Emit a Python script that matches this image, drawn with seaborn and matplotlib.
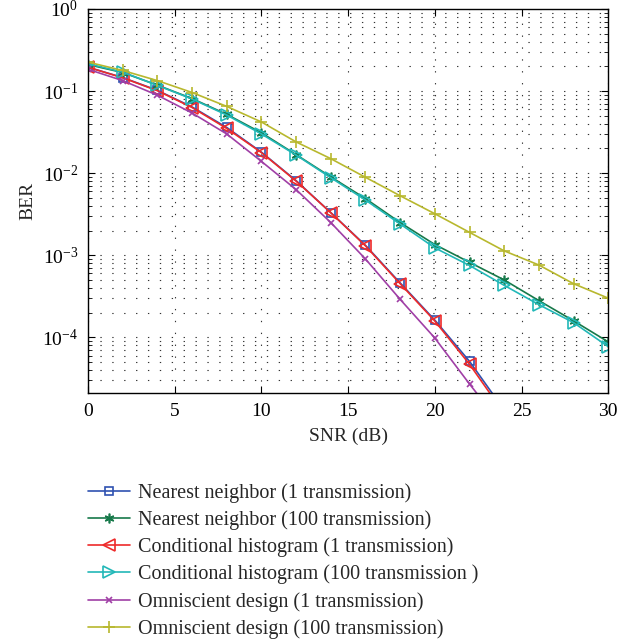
import pandas as pd
import seaborn as sns
import matplotlib.pyplot as plt
from matplotlib.ticker import LogLocator, NullFormatter, MultipleLocator

# SNR v dB, krok 2
snr = list(range(0, 31, 2))

# BER krivky
nn_1 = [0.195, 0.146, 0.102, 0.064, 0.036, 0.018, 0.0081, 0.0033, 0.00132,
        0.00046, 0.000162, 0.000051, 0.0000130]
nn_100 = [0.21, 0.168, 0.118, 0.081, 0.052, 0.031, 0.0168, 0.0090, 0.0049,
          0.0025, 0.00135, 0.00082, 0.00050, 0.00028, 0.000159, 0.000088]
ch_1 = [0.195, 0.145, 0.101, 0.063, 0.035, 0.0178, 0.0080, 0.0033, 0.00130,
        0.00045, 0.000158, 0.000047, 0.0000118]
ch_100 = [0.215, 0.17, 0.117, 0.080, 0.051, 0.030, 0.0166, 0.0088, 0.0047,
          0.0024, 0.00123, 0.00075, 0.00043, 0.00025, 0.000151, 0.000077]
om_1 = [0.184, 0.134, 0.089, 0.054, 0.030, 0.0139, 0.0063, 0.0025, 0.00090,
        0.00029, 0.000098, 0.000027, 0.0000078]
om_100 = [0.225, 0.178, 0.134, 0.096, 0.065, 0.042, 0.024, 0.015, 0.0089,
          0.0053, 0.0032, 0.0019, 0.00113, 0.00076, 0.00045, 0.00030]

names = [
    "Nearest neighbor (1 transmission)",
    "Nearest neighbor (100 transmission)",
    "Conditional histogram (1 transmission)",
    "Conditional histogram (100 transmission )",
    "Omniscient design (1 transmission)",
    "Omniscient design (100 transmission)",
]
series = [nn_1, nn_100, ch_1, ch_100, om_1, om_100]
colors = ["#2f52b0", "#17794a", "#ee2a2a", "#22b8b8", "#a03fa6", "#b8b82e"]
markers = ["s", (6, 2, 0), "<", ">", "x", "+"]
open_marker = [True, False, True, True, False, False]
msizes = [6, 7, 8, 8, 5, 8]

sns.set_style("ticks")
plt.rcParams["font.family"] = ["Liberation Serif", "DejaVu Serif"]
plt.rcParams["mathtext.fontset"] = "stix"

fig = plt.figure(figsize=(6.2, 6.4), dpi=100)
ax = fig.add_axes([0.142, 0.386, 0.839, 0.600])

for name, vals, c, m, op, ms in zip(names, series, colors, markers, open_marker, msizes):
    sns.lineplot(
        x=snr[:len(vals)],
        y=vals,
        color=c,
        marker=m,
        markersize=ms,
        markerfacecolor="none" if op else c,
        markeredgecolor=c,
        markeredgewidth=1.2,
        linewidth=1.2,
        label=name,
        ax=ax,
    )

ax.set_yscale("log")
ax.set_xlim(0, 30)
ax.set_ylim(2.1e-5, 1)
ax.xaxis.set_major_locator(MultipleLocator(5))
ax.yaxis.set_major_locator(LogLocator(base=10, numticks=10))
ax.yaxis.set_minor_locator(LogLocator(base=10, subs=range(2, 10), numticks=20))
ax.yaxis.set_minor_formatter(NullFormatter())

# matlab styl - tecky
dots = (0, (1.2, 9.5))
ax.grid(True, which="major", axis="both", color="0.2", linestyle=dots, linewidth=0.8)
ax.grid(True, which="minor", axis="y", color="0.2", linestyle=dots, linewidth=0.8)

for s in ax.spines.values():
    s.set_visible(True)
    s.set_color("black")
    s.set_linewidth(1.0)
ax.tick_params(which="both", direction="in", top=True, right=True, colors="black",
               labelsize=14, pad=7)
ax.tick_params(which="major", length=5)
ax.tick_params(which="minor", length=3)

ax.set_xlabel("SNR (dB)", fontsize=14, labelpad=6)
ax.set_ylabel("BER", fontsize=14, labelpad=4)

ax.legend(
    loc="upper left",
    bbox_to_anchor=(0.142, 0.245),
    bbox_transform=fig.transFigure,
    frameon=False,
    fontsize=14.5,
    handlelength=2.1,
    handletextpad=0.4,
    labelspacing=0.37,
    borderpad=0,
    borderaxespad=0,
)

plt.savefig("out.png", dpi=100)
